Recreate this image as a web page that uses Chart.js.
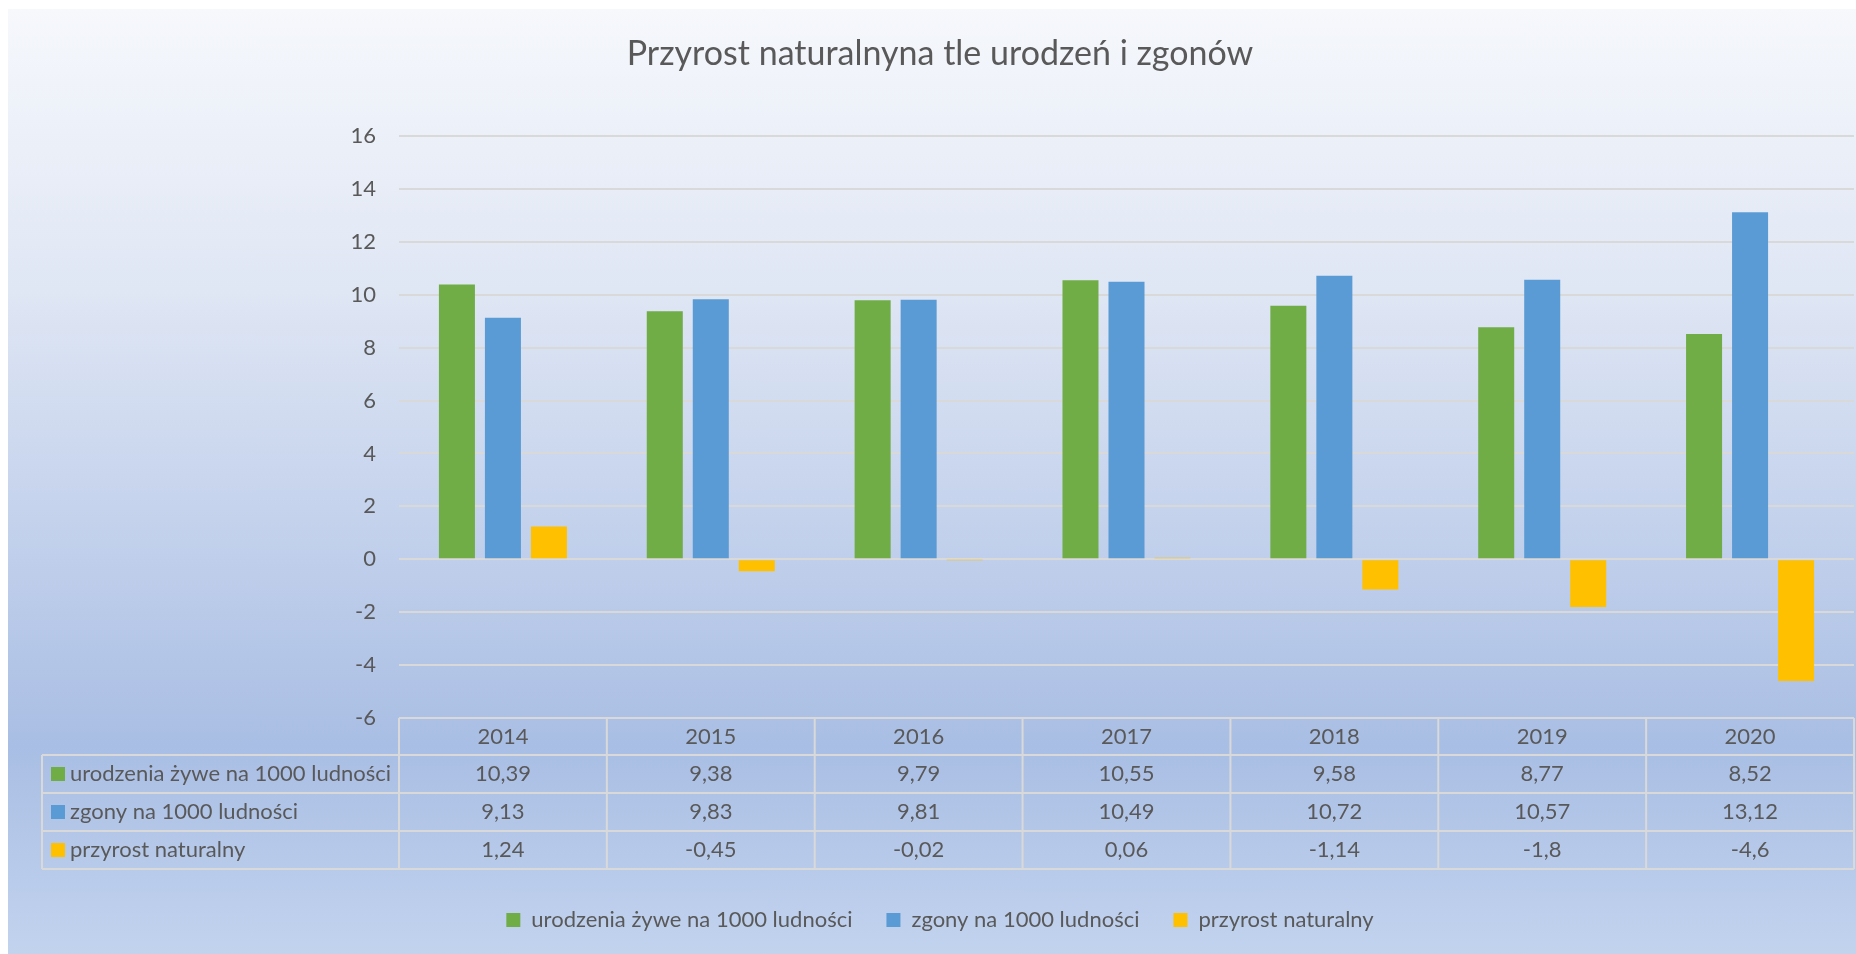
<!DOCTYPE html>
<html><head><meta charset="utf-8">
<script src="https://cdn.jsdelivr.net/npm/chart.js@4/dist/chart.umd.min.js"></script>
<style>
html,body{margin:0;padding:0;background:#fff;}
#bg{position:absolute;left:8px;top:9px;width:1848px;height:945px;background:linear-gradient(to bottom,#f6f8fc 0%,#dfe6f4 30%,#a9bee4 78%,#c2d3ee 100%);}
#wrap{position:absolute;left:0;top:0;width:1856px;height:954px;}
</style></head><body>
<div id="bg"></div>
<div id="wrap"><canvas id="c" width="1856" height="954"></canvas></div>
<script>
const chartTitle = 'Przyrost naturalnyna tle urodzeń i zgonów';
const years = ['2014','2015','2016','2017','2018','2019','2020'];
const seriesNames = ['urodzenia żywe na 1000 ludności','zgony na 1000 ludności','przyrost naturalny'];
const births = [10.39, 9.38, 9.79, 10.55, 9.58, 8.77, 8.52];
const deaths = [9.13, 9.83, 9.81, 10.49, 10.72, 10.57, 13.12];
const growth = [1.24, -0.45, -0.02, 0.06, -1.14, -1.8, -4.6];
const yMin = -6, yMax = 16, yStep = 2;
const seriesColors = ['#70ad47','#5b9bd5','#ffc000'];
const allSeries = [births, deaths, growth];

const TEXT = '#595959';
const FONT = 'Lato';
const FS = 22;
const fmt = v => String(v).replace('.', ',');

const tablePlugin = {
  id: 'dataTable',
  afterDraw(chart) {
    const {ctx, chartArea} = chart;
    const x = chart.scales.x;
    const top = chartArea.bottom;
    const rowsY = [top, top + 37, top + 75, top + 113, top + 151];
    const labelLeft = 42;
    const colW = (x.right - x.left) / years.length;
    ctx.save();
    ctx.strokeStyle = '#d9d9d9';
    ctx.lineWidth = 2;
    ctx.beginPath();
    ctx.moveTo(x.left, rowsY[0]); ctx.lineTo(x.right, rowsY[0]);
    for (let r = 1; r < rowsY.length; r++) { ctx.moveTo(labelLeft, rowsY[r]); ctx.lineTo(x.right, rowsY[r]); }
    ctx.moveTo(labelLeft, rowsY[1]); ctx.lineTo(labelLeft, rowsY[4]);
    for (let i = 0; i < years.length; i++) {
      const cx = x.getPixelForValue(i);
      ctx.moveTo(cx - colW / 2, rowsY[0]); ctx.lineTo(cx - colW / 2, rowsY[4]);
      if (i === years.length - 1) { ctx.moveTo(cx + colW / 2, rowsY[0]); ctx.lineTo(cx + colW / 2, rowsY[4]); }
    }
    ctx.stroke();
    ctx.font = FS + 'px ' + FONT;
    ctx.fillStyle = TEXT;
    ctx.textBaseline = 'middle';
    ctx.textAlign = 'center';
    years.forEach((yr, i) => {
      ctx.fillText(yr, x.getPixelForValue(i), (rowsY[0] + rowsY[1]) / 2);
    });
    allSeries.forEach((data, s) => {
      const cy = (rowsY[s + 1] + rowsY[s + 2]) / 2;
      ctx.textAlign = 'center';
      ctx.fillStyle = TEXT;
      data.forEach((v, i) => ctx.fillText(fmt(v), x.getPixelForValue(i), cy));
      ctx.fillStyle = seriesColors[s];
      ctx.fillRect(51, cy - 7, 14, 14);
      ctx.fillStyle = TEXT;
      ctx.textAlign = 'left';
      ctx.fillText(seriesNames[s], 70, cy);
    });
    ctx.restore();
  }
};

new Chart(document.getElementById('c'), {
  type: 'bar',
  data: {
    labels: years,
    datasets: allSeries.map((d, i) => ({
      label: seriesNames[i],
      data: d,
      backgroundColor: seriesColors[i],
      borderWidth: 0,
      categoryPercentage: 0.664,
      barPercentage: 0.783
    }))
  },
  options: {
    responsive: false,
    animation: false,
    devicePixelRatio: 1,
    layout: { padding: { top: 0, left: 26, right: 2, bottom: 13 } },
    font: { family: FONT },
    plugins: {
      title: {
        display: true,
        text: chartTitle,
        color: TEXT,
        font: { family: FONT, size: 34, weight: 'normal', lineHeight: 1.2 },
        padding: { top: 33.6, bottom: 61.6 }
      },
      legend: {
        position: 'bottom',
        labels: {
          color: TEXT,
          font: { family: FONT, size: FS },
          boxWidth: 14,
          boxHeight: 14,
          padding: 34
        }
      },
      tooltip: { enabled: false }
    },
    scales: {
      x: {
        grid: { display: false },
        border: { display: false },
        ticks: { display: false },
        afterFit(scale) { scale.height = 157; }
      },
      y: {
        min: yMin, max: yMax,
        ticks: { stepSize: yStep, color: TEXT, font: { family: FONT, size: FS }, padding: 23 },
        grid: { color: '#d9d9d9', lineWidth: 2, drawTicks: false },
        border: { display: false },
        afterFit(scale) { scale.width = 373; }
      }
    }
  },
  plugins: [tablePlugin]
});
</script>
</body></html>
